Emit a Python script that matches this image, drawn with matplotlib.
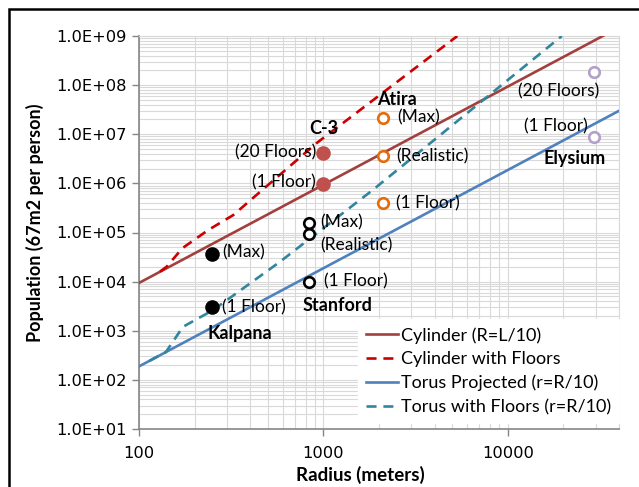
import matplotlib
matplotlib.use('Agg')
import matplotlib.pyplot as plt
from matplotlib.patches import Rectangle
from matplotlib.ticker import LogLocator, FuncFormatter

plt.rcParams['font.family'] = ['Lato', 'DejaVu Sans']

# --- data ---
radius_cyl = [100, 40000]
pop_cyl = [9.4e3, 1.5e9]

radius_cyl_floors = [130, 141, 172, 237, 324, 913, 5320]
pop_cyl_floors = [1.6e4, 2.0e4, 4.8e4, 1.12e5, 2.26e5, 6.5e6, 1.0e9]

radius_torus = [100, 40000]
pop_torus = [188, 3.0e7]

radius_torus_floors = [114, 140, 173, 252, 578, 1847, 19600]
pop_torus_floors = [244, 370, 1200, 2630, 2.5e4, 7.3e5, 1.0e9]

kalpana_r = [250, 250]
kalpana_pop = [3.6e4, 3.0e3]
kalpana_labels = ['(Max)', '(1 Floor)']

stanford_r = [830, 830, 830]
stanford_pop = [1.55e5, 9.3e4, 1.0e4]
stanford_labels = ['(Max)', '(Realistic)', '(1 Floor)']

c3_r = [1000, 1000]
c3_pop = [4.2e6, 9.7e5]
c3_labels = ['(20 Floors)', '(1 Floor)']

atira_r = [2090, 2090, 2090]
atira_pop = [2.17e7, 3.6e6, 4.0e5]
atira_labels = ['(Max)', '(Realistic)', '(1 Floor)']

elysium_r = [29200, 29200]
elysium_pop = [1.82e8, 8.9e6]
elysium_labels = ['(20 Floors)', '(1 Floor)']

x_ticks = [100, 1000, 10000]
x_tick_labels = ['100', '1000', '10000']
y_ticks = [1e1, 1e2, 1e3, 1e4, 1e5, 1e6, 1e7, 1e8, 1e9]
y_tick_labels = ['1.0E+01', '1.0E+02', '1.0E+03', '1.0E+04', '1.0E+05',
                 '1.0E+06', '1.0E+07', '1.0E+08', '1.0E+09']

FS = 12.5
TICK_FS = 11.7

fig = plt.figure(figsize=(6.39, 4.87), dpi=100)
ax = fig.add_axes([139 / 639, 1 - 429 / 487, 480 / 639, 393 / 487])

ax.plot(radius_cyl, pop_cyl, color='#A3403E', lw=1.9, label='Cylinder (R=L/10)', zorder=3)
ax.plot(radius_cyl_floors, pop_cyl_floors, color='#CC0000', lw=1.9, dashes=(3.8, 2.6),
        label='Cylinder with Floors', zorder=3)
ax.plot(radius_torus, pop_torus, color='#4F81BD', lw=1.9, label='Torus Projected (r=R/10)', zorder=3)
ax.plot(radius_torus_floors, pop_torus_floors, color='#31859C', lw=1.9, dashes=(3.8, 2.6),
        label='Torus with Floors (r=R/10)', zorder=3)

# points
ax.plot(kalpana_r, kalpana_pop, 'o', ms=9.5, color='black', zorder=4)
ax.plot(c3_r, c3_pop, 'o', ms=9.5, color='#C0504D', zorder=4)
ax.plot(stanford_r, stanford_pop, 'o', ms=7.6, mfc='white', mec='black', mew=1.9, zorder=4)
ax.plot(atira_r, atira_pop, 'o', ms=7.6, mfc='white', mec='#E46C0A', mew=1.9, zorder=4)
ax.plot(elysium_r, elysium_pop, 'o', ms=7.6, mfc='white', mec='#B3A2C7', mew=1.9, zorder=4)


def label(x, y, s, dx, dy, ha='left', bold=False):
    ax.annotate(s, (x, y), xytext=(dx * 0.72, dy * 0.72), textcoords='offset points',
                ha=ha, va='center', fontsize=13 if bold else FS,
                fontweight='bold' if bold else 'normal', color='black', zorder=5)


# point labels (offsets in pixels)
label(kalpana_r[0], kalpana_pop[0], kalpana_labels[0], 10, 2)
label(kalpana_r[1], kalpana_pop[1], kalpana_labels[1], 10, 0)
label(kalpana_r[1], kalpana_pop[1], 'Kalpana', -5, -26, bold=True)

label(stanford_r[0], stanford_pop[0], stanford_labels[0], 12, 1)
label(stanford_r[1], stanford_pop[1], stanford_labels[1], 12, -11)
label(stanford_r[2], stanford_pop[2], stanford_labels[2], 15, 0)
label(stanford_r[2], stanford_pop[2], 'Stanford', -6, -24, bold=True)

label(c3_r[0], c3_pop[0], c3_labels[0], -7, 0, ha='right')
label(c3_r[1], c3_pop[1], c3_labels[1], -8, 2, ha='right')
label(c3_r[0], c3_pop[0], 'C-3', 0, 24, ha='center', bold=True)

label(atira_r[0], atira_pop[0], atira_labels[0], 15, 0)
label(atira_r[1], atira_pop[1], atira_labels[1], 14, 0)
label(atira_r[2], atira_pop[2], atira_labels[2], 13, 0)
label(atira_r[0], atira_pop[0], 'Atira', -5, 18, bold=True)

label(elysium_r[0], elysium_pop[0], elysium_labels[0], 5, -19, ha='right')
label(elysium_r[1], elysium_pop[1], elysium_labels[1], -6, 10, ha='right')
label(elysium_r[1], elysium_pop[1], 'Elysium', 12, -22, ha='right', bold=True)

ax.set_xscale('log')
ax.set_yscale('log')

ax.set_xticks(x_ticks, labels=x_tick_labels, fontfamily='DejaVu Sans', fontsize=TICK_FS)
ax.set_yticks(y_ticks, labels=y_tick_labels, fontfamily='DejaVu Sans', fontsize=TICK_FS)
ax.xaxis.set_minor_locator(LogLocator(base=10, subs=range(2, 10), numticks=20))
ax.yaxis.set_minor_locator(LogLocator(base=10, subs=range(2, 10), numticks=20))
ax.xaxis.set_minor_formatter(FuncFormatter(lambda v, p: ''))
ax.yaxis.set_minor_formatter(FuncFormatter(lambda v, p: ''))
ax.set_xlim(100, 40000)
ax.set_ylim(10, 1e9)

ax.grid(True, which='both', color='#D9D9D9', lw=0.8, zorder=0)
ax.set_axisbelow(True)
ax.tick_params(which='major', direction='out', length=5, width=1, color='#868686', pad=4)
ax.tick_params(which='minor', length=0)
ax.tick_params(axis='x', pad=7)
for side in ['left', 'bottom']:
    ax.spines[side].set_color('#868686')
    ax.spines[side].set_linewidth(1.2)
for side in ['top', 'right']:
    ax.spines[side].set_color('#D9D9D9')
    ax.spines[side].set_linewidth(0.8)

fig.text(360 / 639, 1 - 475 / 487, 'Radius (meters)', ha='center', va='center',
         fontsize=13.5, fontweight='bold')
fig.text(35 / 639, 1 - 223 / 487, 'Population (67m2 per person)', ha='center', va='center',
         rotation=90, fontsize=13, fontweight='bold')

leg = ax.legend(loc='lower right', bbox_to_anchor=(1.0, 0.015), fontsize=13, frameon=True,
                fancybox=False, edgecolor='white', framealpha=1, borderaxespad=0,
                handlelength=1.75, handletextpad=0.15, labelspacing=0.42, borderpad=0.45)
leg.set_zorder(6)

# outer chart border (only top and left visible in the crop)
fig.add_artist(Rectangle((9 / 639, -0.2), 1.5, 1.2 - 9 / 487, transform=fig.transFigure,
                         fill=False, edgecolor='black', lw=1.8, clip_on=False))

fig.savefig('out.png', dpi=100, facecolor='white')
